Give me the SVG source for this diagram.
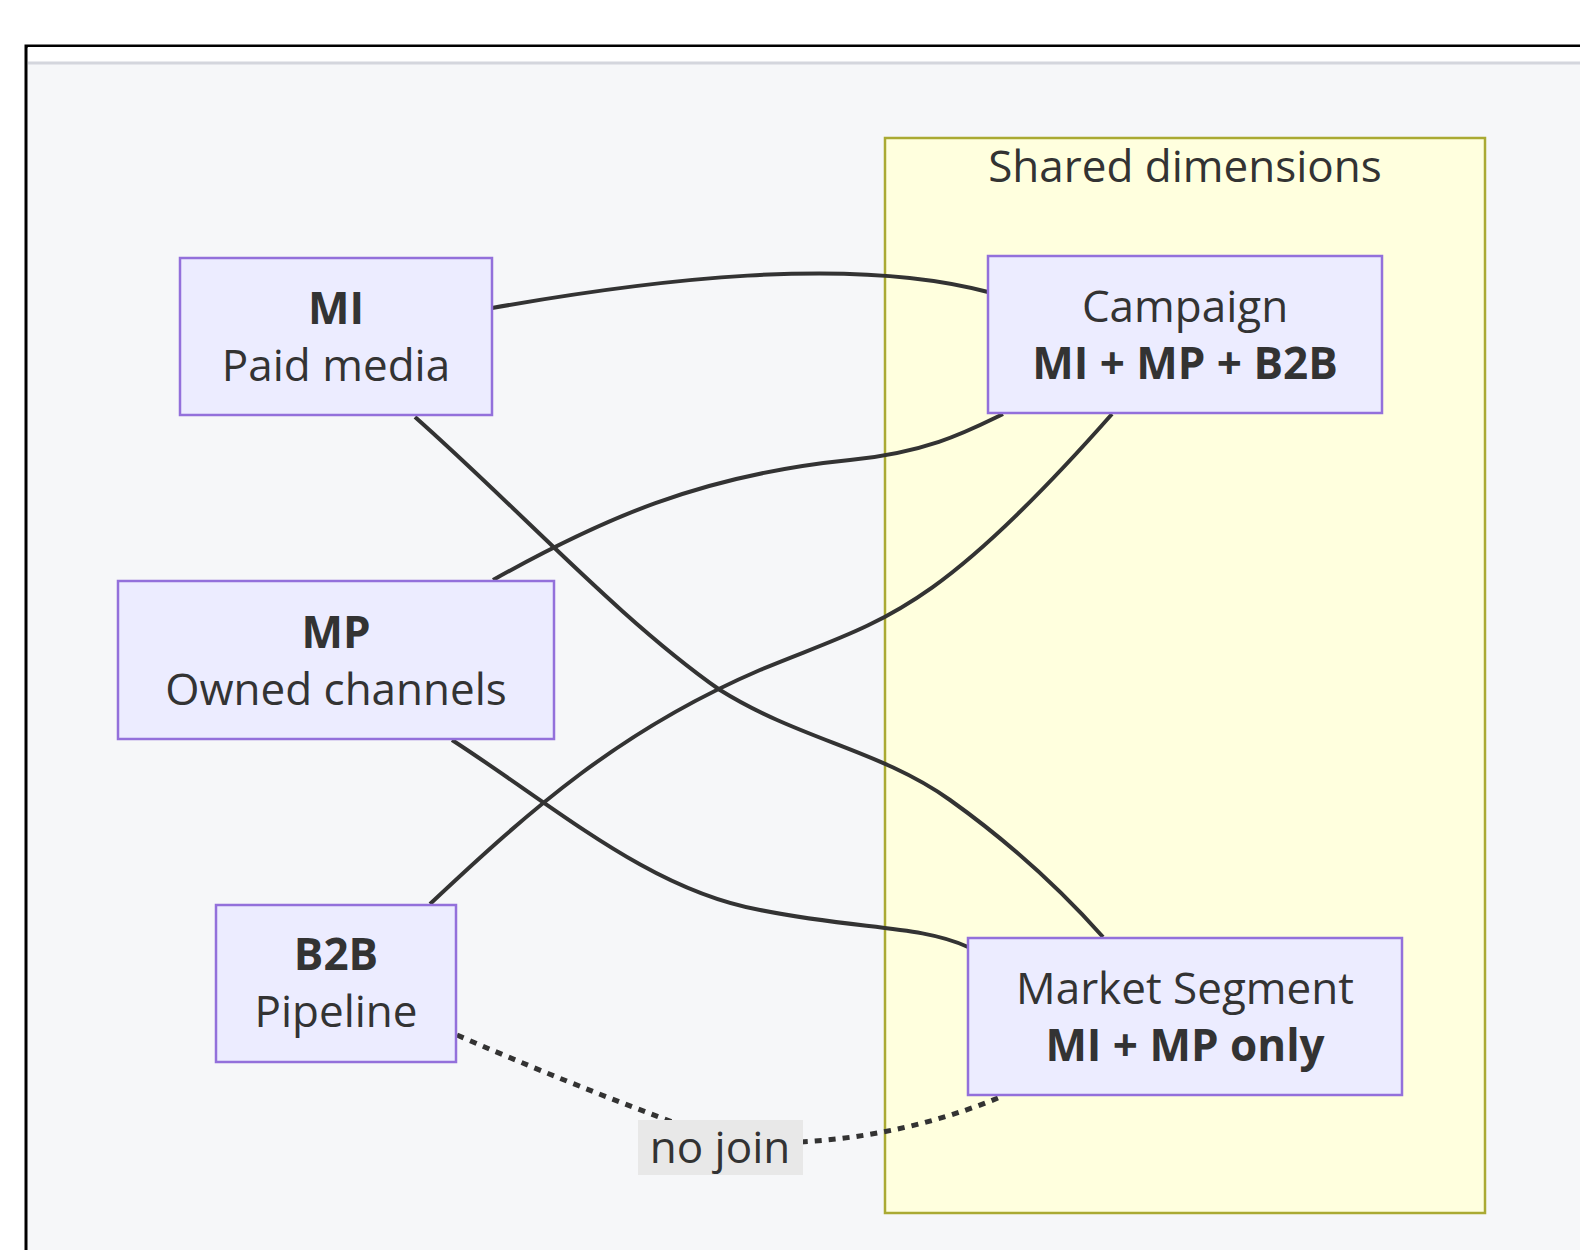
<svg xmlns="http://www.w3.org/2000/svg" width="1580" height="1250" viewBox="0 0 1580 1250">
<style>
text{font-family:"Open Sans","DejaVu Sans",sans-serif;fill:#333;font-size:44px;text-anchor:middle}
.b{font-weight:bold}
.node rect{fill:#ececff;stroke:#9370db;stroke-width:2.5}
.e{fill:none;stroke:#333;stroke-width:4}
.d{stroke-width:5;stroke-dasharray:7 7}
</style>
<rect x="0" y="0" width="1580" height="1250" fill="#fff"/>
<rect x="26" y="46" width="1560" height="1220" fill="#f6f7f9" stroke="#000" stroke-width="3"/>
<rect x="28" y="47" width="1555" height="15" fill="#fff"/>
<line x1="28" y1="63" x2="1580" y2="63" stroke="#d4d6dd" stroke-width="3"/>
<g id="cluster">
<rect x="885" y="138" width="600" height="1075" fill="#ffffde" stroke="#aaaa33" stroke-width="2.5"/>
<text x="1185" y="182">Shared dimensions</text>
</g>
<g id="connectors">
<path class="e" d="M492,308 C650,280 850,255 988,292"/>
<path class="e" d="M415,417 C520,510 620,620 720,690 C800,740 880,750 950,800 C1020,850 1070,900 1103,937"/>
<path class="e" d="M493,580 C600,520 700,475 850,460 C930,452 970,430 1003,414"/>
<path class="e" d="M452,740 C560,810 650,890 760,910 C860,930 920,925 968,947"/>
<path class="e" d="M430,904 C530,810 620,730 760,670 C880,620 930,620 1112,414"/>
<path class="e d" d="M457,1035 C560,1080 640,1110 720,1140 C820,1150 920,1130 998,1098"/>
<rect x="638" y="1120" width="165" height="55" fill="#e8e8e8"/>
<text x="720" y="1163">no join</text>
</g>
<g id="MI" class="node"><rect x="180" y="258" width="312" height="157"/><text x="336" y="324" class="b">MI</text><text x="336" y="381">Paid media</text></g>
<g id="MP" class="node"><rect x="118" y="581" width="436" height="158"/><text x="336" y="648" class="b">MP</text><text x="336" y="705">Owned channels</text></g>
<g id="B2B" class="node"><rect x="216" y="905" width="240" height="157"/><text x="336" y="970" class="b">B2B</text><text x="336" y="1027">Pipeline</text></g>
<g id="Campaign" class="node"><rect x="988" y="256" width="394" height="157"/><text x="1185" y="322">Campaign</text><text x="1185" y="379" class="b">MI + MP + B2B</text></g>
<g id="Market" class="node"><rect x="968" y="938" width="434" height="157"/><text x="1185" y="1004">Market Segment</text><text x="1185" y="1061" class="b">MI + MP only</text></g>
</svg>
